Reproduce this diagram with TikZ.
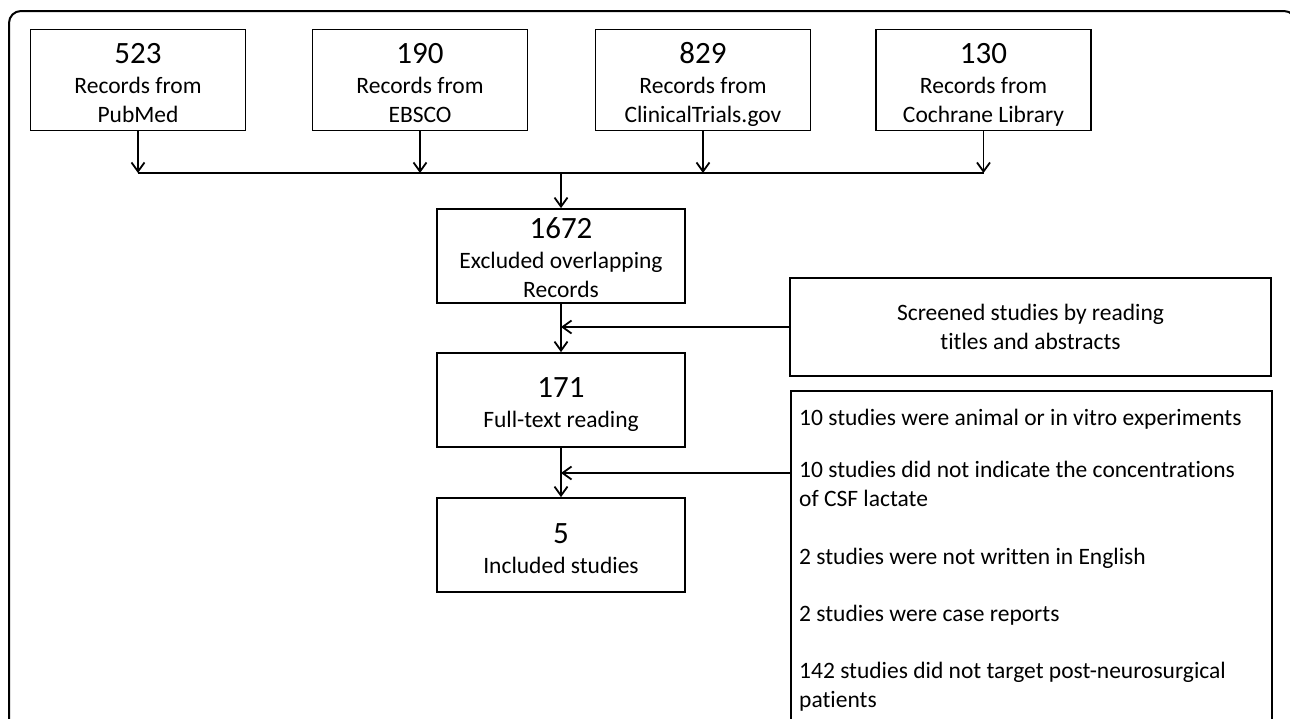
\documentclass[tikz,border=0pt]{standalone}
\usepackage{fontspec}
\setmainfont{Carlito}[Ligatures={NoCommon,NoContextual}]
\usetikzlibrary{arrows.meta,positioning}
\tikzset{
  box/.style={draw, line width=1.8pt, align=center, inner sep=0pt,
    font=\fontsize{23.5}{29}\selectfont},
  topbox/.style={box, minimum width=215pt, minimum height=101pt},
  midbox/.style={box, minimum width=248pt, minimum height=94pt},
  arr/.style={line width=1.8pt, -{Straight Barb[length=9pt,width=13pt,line width=1.8pt]}},
  ln/.style={line width=1.8pt},
  extxt/.style={anchor=base west, inner sep=0pt, font=\fontsize{23.5}{29}\selectfont}
}
\newcommand{\bignum}[2][30pt]{{\fontsize{31}{34}\selectfont\rule{0pt}{#1}#2}}
\newcommand{\dep}{\rule[-6pt]{0pt}{1pt}}
\begin{document}
\begin{tikzpicture}[x=1pt,y=-1pt]
\useasboundingbox (0,0) rectangle (1290,718);
% outer frame
\draw[ln, line width=2pt, rounded corners=12pt] (9,740) -- (9,11) -- (1296,11) -- (1296,740);

% top boxes
\node[topbox] (pub) at (138,80) {\bignum[32pt]{523}\\[1pt]Records from\\PubMed\dep};
\node[topbox] (ebs) at (420,80) {\bignum[32pt]{190}\\[1pt]Records from\\EBSCO\dep};
\node[topbox] (ct)  at (703,80) {\bignum[32pt]{829}\\[1pt]Records from\\ClinicalTrials.gov\dep};
\node[topbox] (coc) at (983.5,80) {\bignum[32pt]{130}\\[1pt]Records from\\Cochrane Library\dep};

% middle column
\node[midbox] (ov) at (561,256) {\bignum[24pt]{1672}\\[1pt]Excluded overlapping\\Records};
\node[midbox] (ft) at (561,400) {\bignum{171}\\[1pt]Full-text reading};
\node[midbox] (inc) at (561,545) {\bignum[28pt]{5}\\[1pt]Included studies};

% right boxes
\node[box, minimum width=481pt, minimum height=98pt] (scr) at (1030.5,327)
  {Screened studies by reading\\titles and abstracts};
\node[draw, line width=1.8pt, anchor=north west, minimum width=481pt, minimum height=360pt, inner sep=0pt] (exc) at (790,390) {};
\node[extxt] (e1) at (799,425) {10 studies were animal or in vitro experiments};
\node[extxt] (e2) at (799,477) {10 studies did not indicate the concentrations};
\node[extxt] (e3) at (799,506) {of CSF lactate};
\node[extxt] (e4) at (799,564) {2 studies were not written in English};
\node[extxt] (e5) at (799,621) {2 studies were case reports};
\node[extxt] (e6) at (799,678) {142 studies did not target post-neurosurgical};
\node[extxt] (e7) at (799,707) {patients};

% merge
\coordinate (jy) at (0,173);
\foreach \b in {pub,ebs,ct,coc}
  \draw[arr] (\b.south) -- (\b.south |- jy);
\draw[ln] (pub.south |- jy) -- (coc.south |- jy);
\draw[arr] (ov.north |- jy) -- (ov.north);

% main flow
\draw[arr] (ov.south) -- (ft.north);
\draw[arr] (ft.south) -- (inc.north);

% side arrows
\draw[arr] (scr.west) -- (scr.west -| ov.south);
\coordinate (exa) at (790,473);
\draw[arr] (exa) -- (exa -| ft.south);
\end{tikzpicture}
\end{document}
